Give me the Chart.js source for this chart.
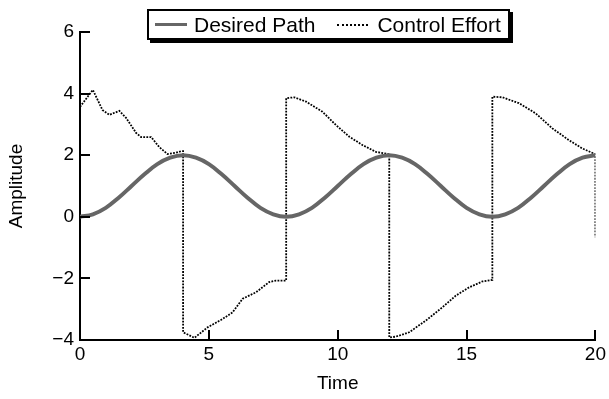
<!DOCTYPE html>
<html>
<head>
<meta charset="utf-8">
<script src="https://cdn.jsdelivr.net/npm/chart.js@4"></script>
<style>
  html, body { margin: 0; padding: 0; background: #fff; }
  #wrap { position: relative; width: 609px; height: 399px; }
  #legend {
    position: absolute; left: 147px; top: 9px; width: 359px; height: 27px;
    border: 2px solid #000; box-shadow: 3px 3px 0 #000; background: #fff;
    font-family: "Liberation Sans", Arial, sans-serif; font-size: 21px; color: #000;
    display: flex; align-items: center; box-sizing: content-box; white-space: nowrap;
  }
  .sw { display: inline-block; height: 0; }
  .item { display: flex; align-items: center; }
</style>
</head>
<body>
<div id="wrap">
  <canvas id="chart" width="609" height="399"></canvas>
  <div id="legend">
    <span class="item" style="margin-left:6px"><span class="sw" style="width:32px;border-top:3px solid #666;margin-right:7px"></span>Desired Path</span>
    <span class="item" style="margin-left:22px"><span class="sw" style="width:31px;border-top:2px dotted #000;margin-right:9px"></span>Control Effort</span>
  </div>
</div>
<script>
const desiredTime = [0, 0.5, 1, 1.5, 2, 2.5, 3, 3.5, 4, 4.5, 5, 5.5, 6, 6.5, 7, 7.5, 8,
  8.5, 9, 9.5, 10, 10.5, 11, 11.5, 12, 12.5, 13, 13.5, 14, 14.5, 15, 15.5, 16,
  16.5, 17, 17.5, 18, 18.5, 19, 19.5, 20];
const desiredPath = [0, 0.08, 0.29, 0.62, 1.0, 1.38, 1.71, 1.92, 2.0, 1.92, 1.71, 1.38, 1.0, 0.62, 0.29, 0.08, 0,
  0.08, 0.29, 0.62, 1.0, 1.38, 1.71, 1.92, 2.0, 1.92, 1.71, 1.38, 1.0, 0.62, 0.29, 0.08, 0,
  0.08, 0.29, 0.62, 1.0, 1.38, 1.71, 1.92, 2.0];

const effortTime = [0, 0.5, 0.87, 1.14, 1.53, 1.79, 2.18, 2.37, 2.76, 3.08, 3.39, 3.73, 3.92, 4.0,
  4.0, 4.44, 4.95, 5.53, 5.92, 6.31, 6.83, 7.34, 7.6, 8.0,
  8.0, 8.31, 8.77, 9.41, 9.93, 10.45, 10.96, 11.48, 12.0,
  12.0, 12.26, 12.77, 13.42, 14.06, 14.58, 15.1, 15.61, 16.0,
  16.0, 16.39, 17.03, 17.68, 18.33, 18.97, 19.49, 20.0, 20.0];
const controlEffort = [3.57, 4.12, 3.47, 3.31, 3.44, 3.21, 2.72, 2.59, 2.59, 2.26, 2.04, 2.08, 2.13, 2.13,
  -3.75, -3.93, -3.59, -3.32, -3.1, -2.66, -2.45, -2.12, -2.07, -2.07,
  3.85, 3.88, 3.74, 3.41, 2.98, 2.6, 2.33, 2.11, 2.03,
  -3.92, -3.89, -3.75, -3.37, -2.94, -2.56, -2.29, -2.1, -2.05,
  3.9, 3.88, 3.69, 3.36, 2.87, 2.49, 2.22, 2.03, -0.66];

const xTicks = [0, 5, 10, 15, 20];
const yTicks = [-4, -2, 0, 2, 4, 6];

const FONT = { family: '"Liberation Sans", Arial, sans-serif', size: 19 };

// ticks point into the plot, as in the original figure
const innerTicks = {
  id: 'innerTicks',
  afterDraw(chart) {
    const ctx = chart.ctx;
    const xs = chart.scales.x, ys = chart.scales.y;
    const area = chart.chartArea;
    ctx.save();
    ctx.strokeStyle = '#000';
    ctx.lineWidth = 2;
    ctx.beginPath();
    xTicks.forEach(v => {
      const px = Math.round(xs.getPixelForValue(v));
      ctx.moveTo(px, area.bottom);
      ctx.lineTo(px, area.bottom - 10);
    });
    yTicks.forEach(v => {
      const py = Math.round(ys.getPixelForValue(v));
      ctx.moveTo(area.left, py);
      ctx.lineTo(area.left + 10, py);
    });
    ctx.stroke();
    ctx.restore();
  }
};

const fmt = v => (v < 0 ? '\u2212' + Math.abs(v) : String(v));

new Chart(document.getElementById('chart'), {
  type: 'line',
  data: {
    datasets: [
      {
        label: 'Desired Path',
        data: desiredTime.map((t, i) => ({ x: t, y: desiredPath[i] })),
        borderColor: '#666666',
        borderWidth: 4,
        pointRadius: 0,
        tension: 0.4,
        fill: false
      },
      {
        label: 'Control Effort',
        data: effortTime.map((t, i) => ({ x: t, y: controlEffort[i] })),
        borderColor: '#000000',
        borderWidth: 1.8,
        borderDash: [1.8, 1.3],
        pointRadius: 0,
        tension: 0,
        fill: false
      }
    ]
  },
  options: {
    responsive: false,
    animation: false,
    events: [],
    layout: { padding: { top: 32, right: 13, left: 0, bottom: 0 } },
    plugins: { legend: { display: false }, tooltip: { enabled: false } },
    scales: {
      x: {
        type: 'linear',
        min: 0, max: 20,
        afterBuildTicks: s => { s.ticks = xTicks.map(v => ({ value: v })); },
        afterFit: s => { s.height = 59; },
        ticks: { color: '#000', font: FONT, padding: 3, maxRotation: 0, callback: fmt },
        grid: { display: false, drawTicks: false },
        border: { display: true, color: '#000', width: 2 },
        title: { display: true, text: 'Time', color: '#000', font: FONT, padding: { top: 4, bottom: 4 } }
      },
      y: {
        type: 'linear',
        min: -4, max: 6,
        afterBuildTicks: s => { s.ticks = yTicks.map(v => ({ value: v })); },
        afterFit: s => { s.width = 80; },
        ticks: { color: '#000', font: FONT, padding: 6, callback: fmt },
        grid: { display: false, drawTicks: false },
        border: { display: true, color: '#000', width: 2 },
        title: { display: true, text: 'Amplitude', color: '#000', font: FONT, padding: { top: 5, bottom: 0 } }
      }
    }
  },
  plugins: [innerTicks]
});
</script>
</body>
</html>
